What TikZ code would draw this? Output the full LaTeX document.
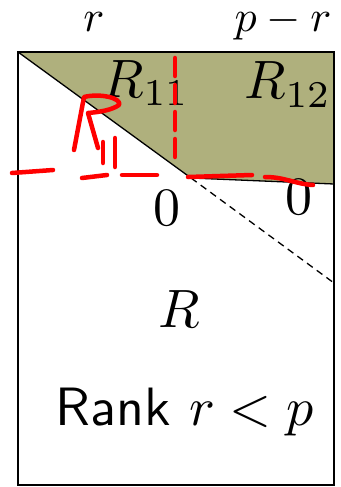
\documentclass[tikz,border=0pt]{standalone}
\usetikzlibrary{calc}
\definecolor{olivefill}{RGB}{175,176,125}
\begin{document}
\begin{tikzpicture}[
  x=1pt,y=-1pt,
  lbl/.style={inner sep=0pt,anchor=base,scale=5.4},
  toplbl/.style={inner sep=0pt,anchor=base,scale=4.4},
  ink/.style={red,line width=4.5pt,line cap=round,line join=round}
]
  \useasboundingbox (0,0) rectangle (340,487);
  \coordinate (tl) at (18,52);
  \coordinate (tr) at (334,52);
  \coordinate (br) at (334,485);
  \coordinate (dend) at (191,178);
  \coordinate (rend) at (334,184);
  \coordinate (dtip) at (334,283);

  \fill[olivefill] (tl) -- (tr) -- (rend) -- (dend) -- cycle;
  \draw[line width=1.3pt] (tl) -- (dend) -- (rend);
  \draw[line width=1.3pt,dash pattern=on 7pt off 5pt] (dend) -- (dtip);
  \draw[line width=1.6pt] (tl) rectangle (br);

  \node[toplbl] (r) at (94,32) {$r$};
  \node[toplbl] (pr) at (283,32) {$p-r$};
  \node[lbl] (r11) at (146,97) {$R_{11}$};
  \node[lbl] (r12) at (288,99) {$R_{12}$};
  \node[lbl] (z1) at (167,225) {$0$};
  \node[lbl] (z2) at (299,214) {$0$};
  \node[lbl] (rr) at (179,327) {$R$};
  \node[lbl] (rank) at (185,425) {\textsf{Rank} $r<p$};

  % hand-drawn marks
  \draw[ink,dash pattern=on 18pt off 9pt] (175,58) -- (175,165);
  \draw[ink] (12,173) -- (53,170);
  \draw[ink] (82,178) -- (107,175);
  \draw[ink] (122,175) -- (157,175);
  \draw[ink] (188,177) -- (252,175);
  \draw[ink] (265,177) .. controls (285,177) and (295,184) .. (313,185);
  \draw[ink] (74,150) -- (84,97) .. controls (100,93) and (122,98) .. (119,105) .. controls (112,110) and (100,112) .. (88,113) -- (98,148);
  \draw[ink] (103,142) -- (103,163);
  \draw[ink] (115,138) -- (115,167);
\end{tikzpicture}
\end{document}
